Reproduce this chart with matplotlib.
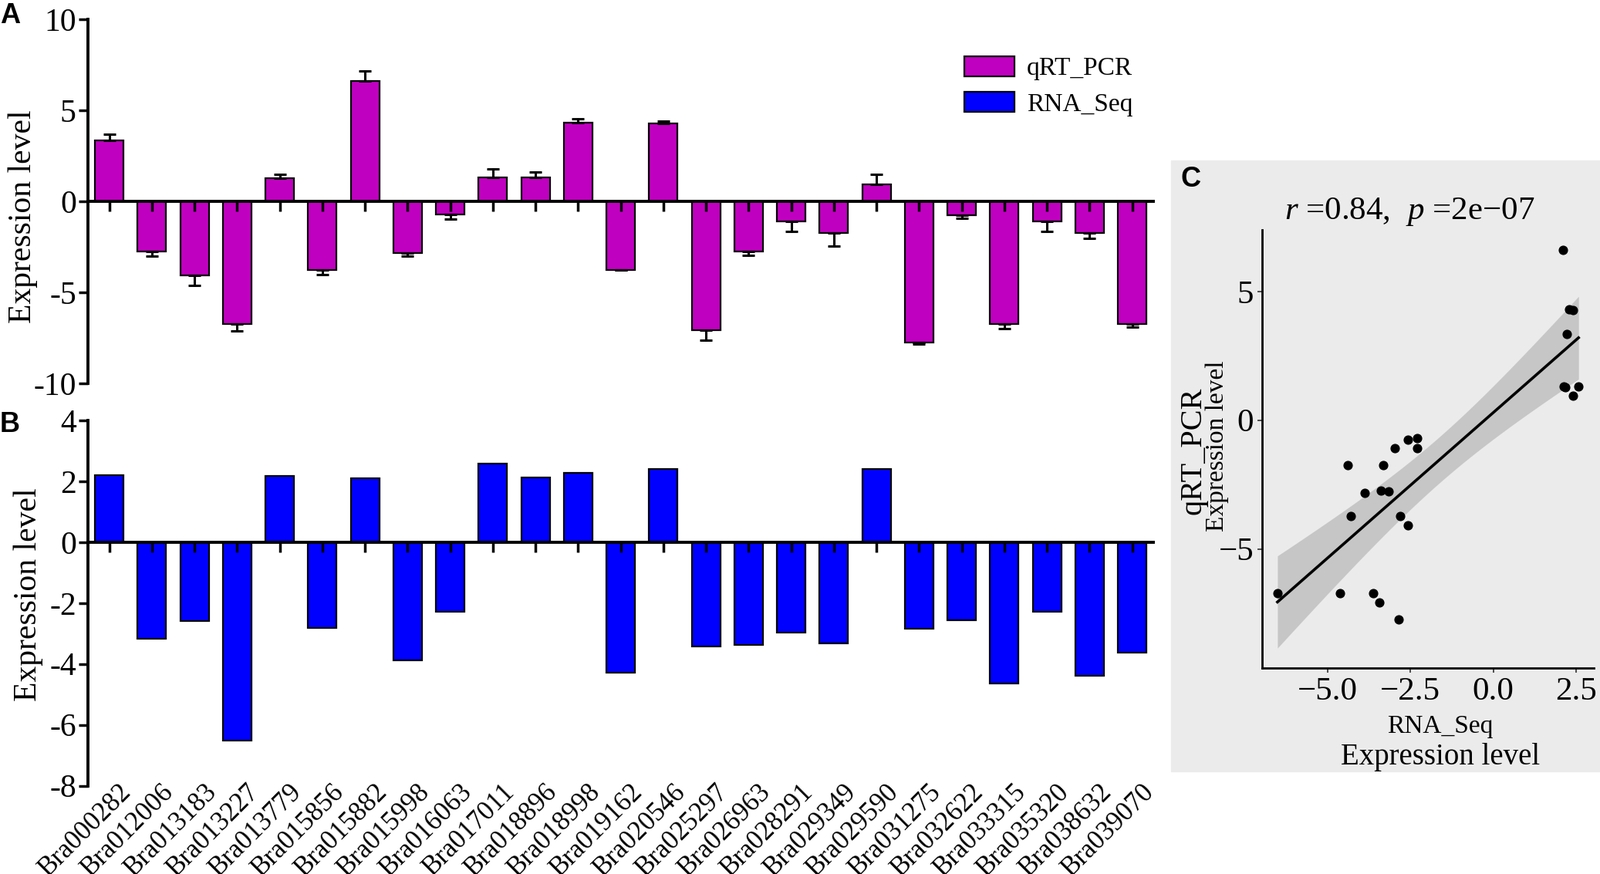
import numpy as np
import matplotlib
matplotlib.use("Agg")
import matplotlib.pyplot as plt
from matplotlib.patches import Rectangle
from matplotlib.transforms import ScaledTranslation

plt.rcParams['font.family'] = ['Liberation Serif', 'DejaVu Serif']
plt.rcParams['mathtext.fontset'] = 'custom'
plt.rcParams['mathtext.rm'] = 'Liberation Serif'
plt.rcParams['mathtext.it'] = 'Liberation Serif:italic'

# data
genes = ['Bra000282', 'Bra012006', 'Bra013183', 'Bra013227', 'Bra013779',
         'Bra015856', 'Bra015882', 'Bra015998', 'Bra016063', 'Bra017011',
         'Bra018896', 'Bra018998', 'Bra019162', 'Bra020546', 'Bra025297',
         'Bra026963', 'Bra028291', 'Bra029349', 'Bra029590', 'Bra031275',
         'Bra032622', 'Bra033315', 'Bra035320', 'Bra038632', 'Bra039070']
qpcr = [3.34, -2.76, -4.07, -6.73, 1.28, -3.74, 6.61, -2.83, -0.70, 1.30,
        1.30, 4.31, -3.74, 4.28, -7.08, -2.73, -1.08, -1.75, 0.95, -7.74,
        -0.77, -6.73, -1.08, -1.75, -6.72]
qpcr_err = [0.35, 0.24, 0.54, 0.38, 0.20, 0.28, 0.55, 0.19, 0.27, 0.50,
            0.30, 0.23, 0.03, 0.15, 0.55, 0.24, 0.56, 0.70, 0.53, 0.08,
            0.14, 0.25, 0.55, 0.28, 0.18]
rnaseq = [2.21, -3.16, -2.58, -6.51, 2.17, -2.82, 2.09, -3.88, -2.29, 2.57,
          2.13, 2.28, -4.29, 2.41, -3.43, -3.38, -2.98, -3.32, 2.41, -2.85,
          -2.57, -4.63, -2.29, -4.39, -3.63]

a_ticks = [-10, -5, 0, 5, 10]
a_ticklabels = ['-10', '-5', '0', '5', '10']
b_ticks = [-8, -6, -4, -2, 0, 2, 4]
b_ticklabels = ['-8', '-6', '-4', '-2', '0', '2', '4']
c_xticks = [-5.0, -2.5, 0.0, 2.5]
c_xticklabels = ['\u22125.0', '\u22122.5', '0.0', '2.5']
c_yticks = [-5, 0, 5]
c_yticklabels = ['\u22125', '0', '5']
title_c = r'$\it{r}$ =0.84,  $\it{p}$ =2e' + '\u2212' + '07'

pcr_color = '#C000C0'
seq_color = '#0000FF'

fig = plt.figure(figsize=(20.74, 11.33), dpi=100)


def style_bar_axes(ax, ticks, ticklabels, ylim, label_xy):
    ax.set_xlim(-0.5, len(genes) - 0.5)
    ax.set_ylim(*ylim)
    for s in ['top', 'right']:
        ax.spines[s].set_visible(False)
    ax.spines['bottom'].set_position(('data', 0))
    ax.spines['left'].set_linewidth(2.8)
    ax.spines['bottom'].set_linewidth(2.8)
    ax.set_yticks(ticks)
    ax.set_yticklabels(ticklabels, fontsize=30)
    ax.set_xticks(range(len(genes)))
    ax.tick_params(axis='both', direction='out', length=9, width=2.5)
    ax.tick_params(axis='y', pad=2)
    ax.set_ylabel('Expression level', fontsize=30)
    ax.yaxis.set_label_coords(*label_xy)


x = np.arange(len(genes))
q = np.array(qpcr)
e = np.array(qpcr_err)
r = np.array(rnaseq)

# panel A
ax_a = fig.add_axes([0.055, 0.561, 0.666, 0.417])
bars_a = ax_a.bar(x, q, width=0.67, color=pcr_color, edgecolor='black',
                  linewidth=1.6, label='qRT_PCR', zorder=1)
lower = np.where(q < 0, e, 0)
upper = np.where(q >= 0, e, 0)
ax_a.errorbar(x, q, yerr=[lower, upper], fmt='none', ecolor='black',
              elinewidth=2.2, capsize=6, capthick=2.2, zorder=2)
style_bar_axes(ax_a, a_ticks, a_ticklabels, (-10, 10), (-0.047, 0.458))
ax_a.set_xticklabels([])

# panel B
ax_b = fig.add_axes([0.055, 0.101, 0.666, 0.418])
bars_b = ax_b.bar(x, r, width=0.67, color=seq_color, edgecolor='black',
                  linewidth=1.6, label='RNA_Seq', zorder=1)
style_bar_axes(ax_b, b_ticks, b_ticklabels, (-8, 4), (-0.042, 0.524))
ax_b.set_xticklabels(genes, fontsize=25)
# push gene labels from the zero line down to the bottom of the axes
ax_h_pt = 0.418 * 11.33 * 72
zero_pt = (0 - (-8)) / 12 * ax_h_pt
ax_b.tick_params(axis='x', pad=zero_pt - 9 - 6)
shift = ScaledTranslation(12 / 100, 0, fig.dpi_scale_trans)
for lab in ax_b.get_xticklabels():
    lab.set_rotation(45)
    lab.set_ha('right')
    lab.set_va('top')
    lab.set_rotation_mode('anchor')
    lab.set_transform(lab.get_transform() + shift)

fig.legend(handles=[bars_a, bars_b], loc='upper left',
           bbox_to_anchor=(0.588, 0.962), frameon=False, fontsize=24,
           handlelength=1.95, handleheight=0.8, handletextpad=0.5,
           labelspacing=0.45)

# panel C
fig.patches.append(Rectangle((0.732, 0.117), 0.268, 0.699,
                             transform=fig.transFigure, color='#EBEBEB',
                             zorder=-1))
ax_c = fig.add_axes([0.789, 0.2357, 0.207, 0.501])
ax_c.set_facecolor('#EBEBEB')

n = len(r)
slope, intercept = np.polyfit(r, q, 1)
resid = q - (slope * r + intercept)
s = np.sqrt(np.sum(resid ** 2) / (n - 2))
xm = r.mean()
sxx = np.sum((r - xm) ** 2)
xs = np.linspace(r.min(), r.max(), 100)
fit = slope * xs + intercept
t975 = 2.0687  # t quantile, df = 23
band = t975 * s * np.sqrt(1 / n + (xs - xm) ** 2 / sxx)

ax_c.fill_between(xs, fit - band, fit + band, color='#999999', alpha=0.45,
                  linewidth=0, zorder=1)
ax_c.plot(xs, fit, color='black', linewidth=2.6, zorder=2)
ax_c.scatter(r, q, s=60, color='black', zorder=3)

xr = r.max() - r.min()
ax_c.set_xlim(r.min() - 0.05 * xr, r.max() + 0.05 * xr)
ylo = min(q.min(), (fit - band).min())
yhi = max(q.max(), (fit + band).max())
yr = yhi - ylo
ax_c.set_ylim(ylo - 0.05 * yr, yhi + 0.05 * yr)

for sname in ['top', 'right']:
    ax_c.spines[sname].set_visible(False)
for sname in ['left', 'bottom']:
    ax_c.spines[sname].set_linewidth(2.0)
ax_c.set_xticks(c_xticks)
ax_c.set_xticklabels(c_xticklabels, fontsize=31)
ax_c.set_yticks(c_yticks)
ax_c.set_yticklabels(c_yticklabels, fontsize=31)
ax_c.tick_params(length=4, width=1.2, color='#333333', pad=4)

fig.text(0.881, 0.758, title_c, fontsize=31, ha='center', va='center')
fig.text(0.746, 0.484, 'qRT_PCR', fontsize=29, rotation=90,
         ha='center', va='center')
fig.text(0.7605, 0.49, 'Expression level', fontsize=24, rotation=90,
         ha='center', va='center')
fig.text(0.900, 0.169, 'RNA_Seq', fontsize=24, ha='center', va='center')
fig.text(0.900, 0.134, 'Expression level', fontsize=28, ha='center',
         va='center')

# panel letters
for lab, px, py in [('A', 0.0, 0.997), ('B', 0.0, 0.53), ('C', 0.738, 0.81)]:
    fig.text(px, py, lab, fontsize=26, fontweight='bold',
             family=['Liberation Sans', 'DejaVu Sans'], ha='left', va='top')

fig.savefig('out.png', dpi=100)
